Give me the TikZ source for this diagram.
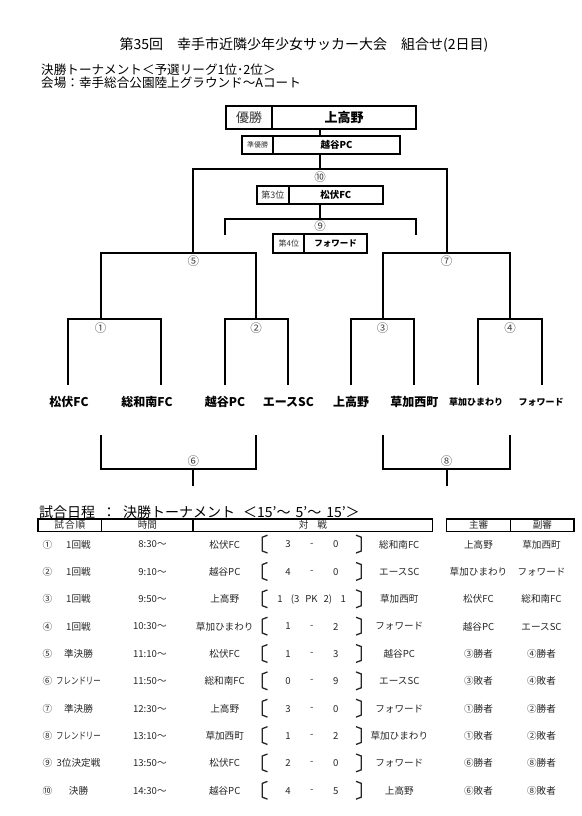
\documentclass[tikz,border=0pt]{standalone}
\usepackage{fontspec}
\usepackage{graphicx}
\setmainfont{Noto Sans CJK JP}
\newcommand{\myfs}[1]{\fontsize{#1}{#1}\selectfont}
\newcommand{\narrow}[1]{\scalebox{0.78}[1]{#1}}
\begin{document}
\begin{tikzpicture}[x=1pt,y=-1pt,
  br/.style={line width=2.3pt},
  cellbox/.style={draw,line width=2pt,inner sep=0pt,anchor=north west},
  num/.style={font=\myfs{11.5},text=black!75,inner sep=0pt},
  team/.style={font=\myfs{12}\bfseries,inner sep=0pt},
  smteam/.style={font=\myfs{9}\bfseries,inner sep=0pt},
  tx/.style={font=\myfs{9.6},text=black!85,inner sep=0pt},
  hdcell/.style={draw,line width=1.4pt,inner sep=0pt,anchor=north west,minimum height=12.5pt,font=\myfs{9.6},text=black!85},
  sbr/.style={line width=1.3pt,black!85}
]
\useasboundingbox (0,0) rectangle (581,816);

% ---------- titles ----------
\node[font=\myfs{14},inner sep=0pt] (title) at (304,45) {第35回\hspace{14pt}幸手市近隣少年少女サッカー大会\hspace{14pt}組合せ(2日目)};
\node[font=\myfs{12.6},inner sep=0pt,anchor=west] (sub1) at (41,69.5) {決勝トーナメント＜予選リーグ1位･2位＞};
\node[font=\myfs{12.6},inner sep=0pt,anchor=west] (sub2) at (41,83) {会場：幸手総合公園陸上グラウンド～Aコート};

% ---------- result boxes ----------
\node[cellbox,minimum width=46pt,minimum height=23pt,font=\myfs{13},text=black!80] (winl) at (225,105) {優勝};
\node[cellbox,minimum width=144pt,minimum height=23pt,font=\myfs{13}\bfseries] (win) at (271,105) {上高野};
\node[cellbox,minimum width=31pt,minimum height=17.7pt,font=\myfs{7},text=black!80] (rul) at (241,135) {準優勝};
\node[cellbox,minimum width=127pt,minimum height=17.7pt,font=\myfs{9.5}\bfseries] (ru) at (272,135) {越谷PC};
\node[cellbox,minimum width=31.5pt,minimum height=18pt,font=\myfs{9},text=black!80] (thl) at (256,185) {第3位};
\node[cellbox,minimum width=94.5pt,minimum height=18pt,font=\myfs{9.5}\bfseries] (th) at (287.5,185) {松伏FC};
\node[cellbox,minimum width=31pt,minimum height=19pt,font=\myfs{8},text=black!80] (fol) at (272.3,232.7) {第4位};
\node[cellbox,minimum width=62.4pt,minimum height=19pt,font=\myfs{8.5}\bfseries] (fo) at (303.3,232.7) {フォワード};

% ---------- bracket junction coordinates ----------
\coordinate (vx) at (320,0);
\coordinate (F) at (320,169);
\coordinate (SL) at (193.3,169);
\coordinate (SR) at (446.7,169);
\coordinate (s5) at (193.3,252.7);
\coordinate (s7) at (446.7,252.7);
\coordinate (T) at (320,219);

% final
\draw[br] (vx|-win.south) -- (vx|-ru.north);
\draw[br] (vx|-ru.south) -- (F);
\draw[br] (s5) -- (SL) -- (SR) -- (s7);
\node[num] (m10) at (320,177) {⑩};
% third place
\draw[br] (vx|-th.south) -- (T);
\draw[br] (225,235) -- (225,219) -- (416,219) -- (416,235);
\node[num] (m9) at (320,226.5) {⑨};

% semis
\draw[br] (100.7,319) -- (100.7,252.7) -- (256,252.7) -- (256,319);
\node[num] (m5) at (193.3,261.5) {⑤};
\draw[br] (382.7,319) -- (382.7,252.7) -- (510,252.7) -- (510,319);
\node[num] (m7) at (446.7,261.5) {⑦};

% first round
\foreach \L/\R/\M/\n in {68/161/100.7/①, 225/288.3/256/②, 351/414.3/382.7/③, 478/541.7/510/④}{
  \draw[br] (\L,385) -- (\L,319) -- (\R,319) -- (\R,385);
  \node[num] at (\M,328) {\n};
}

% teams
\node[team] (t1) at (69,402) {松伏FC};
\node[team] (t2) at (147,402) {総和南FC};
\node[team] (t3) at (225,402) {越谷PC};
\node[team] (t4) at (288.3,402) {エースSC};
\node[team] (t5) at (351,402) {上高野};
\node[team] (t6) at (414.3,402) {草加西町};
\node[smteam] (t7) at (476,402) {草加ひまわり};
\node[smteam] (t8) at (541,402) {フォワード};

% losers brackets
\draw[br] (100.7,435) -- (100.7,469.3) -- (256,469.3) -- (256,435);
\draw[br] (193.3,469.3) -- (193.3,485.7);
\node[num] (m6) at (193.3,461) {⑥};
\draw[br] (382.7,435) -- (382.7,469.3) -- (510,469.3) -- (510,435);
\draw[br] (446.7,469.3) -- (446.7,485.7);
\node[num] (m8) at (446.7,461) {⑧};

% ---------- schedule ----------
\node[font=\myfs{14},inner sep=0pt,anchor=west] (schedt) at (39,512) {試合日程\hspace{7pt}：\hspace{7pt}決勝トーナメント\hspace{8pt}＜15'～\hspace{5pt}5'～\hspace{5pt}15'＞};

\node[hdcell,minimum width=63.7pt] (h1) at (37.3,518.3) {試\hspace{1pt}合\hspace{1pt}順};
\node[hdcell,minimum width=91.3pt] (h2) at (101,518.3) {時間};
\node[hdcell,minimum width=239.7pt] (h3) at (192.3,518.3) {対\hspace{9pt}戦};
\node[hdcell,minimum width=64pt] (h4) at (446,518.3) {主審};
\node[hdcell,minimum width=63.3pt] (h5) at (510,518.3) {副審};

\foreach \i/\n/\rd/\tm/\home/\sa/\sb/\away/\rf/\sr in {
 1/①/1回戦/8:30～/松伏FC/3/0/総和南FC/上高野/草加西町,
 2/②/1回戦/9:10～/越谷PC/4/0/エースSC/草加ひまわり/フォワード,
 3/③/1回戦/9:50～/上高野/x/x/草加西町/松伏FC/総和南FC,
 4/④/1回戦/10:30～/草加ひまわり/1/2/フォワード/越谷PC/エースSC,
 5/⑤/準決勝/11:10～/松伏FC/1/3/越谷PC/③勝者/④勝者,
 6/⑥/\narrow{フレンドリー}/11:50～/総和南FC/0/9/エースSC/③敗者/④敗者,
 7/⑦/準決勝/12:30～/上高野/3/0/フォワード/①勝者/②勝者,
 8/⑧/\narrow{フレンドリー}/13:10～/草加西町/1/2/草加ひまわり/①敗者/②敗者,
 9/⑨/3位決定戦/13:50～/松伏FC/2/0/フォワード/⑥勝者/⑧勝者,
 10/⑩/決勝/14:30～/越谷PC/4/5/上高野/⑥敗者/⑧敗者}{
  \pgfmathsetmacro{\yy}{544.5+(\i-1)*27.35}
  \node[tx] (n\i) at (47.5,\yy) {\n};
  \node[tx] (rd\i) at (78.5,\yy) {\rd};
  \node[tx,anchor=east] (tm\i) at (166.8,\yy) {\tm};
  \node[tx] (hm\i) at (224.7,\yy) {\home};
  \node[tx] (aw\i) at (399.3,\yy) {\away};
  \node[tx] (rf\i) at (478.5,\yy) {\rf};
  \node[tx] (sr\i) at (541.5,\yy) {\sr};
  \draw[sbr] (267.5,\yy-9.3) -- (262.3,\yy-7.3) -- (262.3,\yy+6.5) -- (267.5,\yy+8.5);
  \draw[sbr] (356,\yy-9.3) -- (361.3,\yy-7.3) -- (361.3,\yy+6.5) -- (356,\yy+8.5);
  \if x\sa\else
    \node[tx] (sa\i) at (288,\yy) {\sa};
    \node[tx] (sd\i) at (311.7,\yy) {-};
    \node[tx] (sb\i) at (335.7,\yy) {\sb};
  \fi
}
% match 3 special score
\node[tx] (sa3) at (280,599.2) {1};
\node[tx] (sp3) at (311.5,599.2) {(3\hspace{6pt}PK\hspace{6pt}2)};
\node[tx] (sb3) at (343.3,599.2) {1};
\end{tikzpicture}
\end{document}
